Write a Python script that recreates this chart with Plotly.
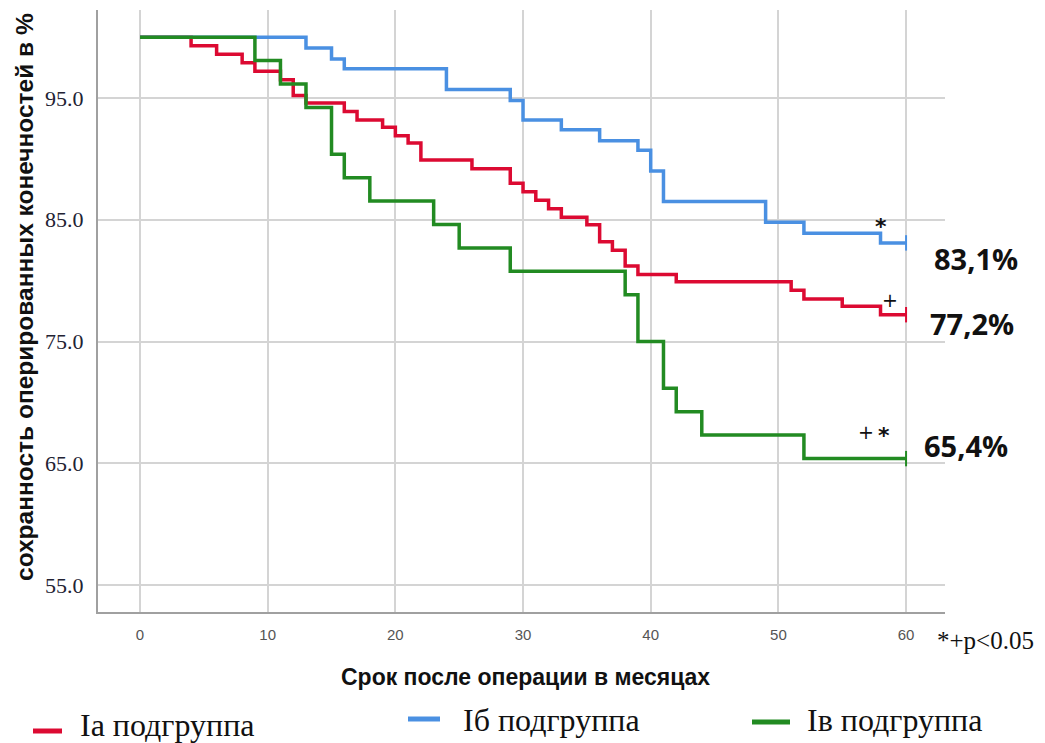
import plotly.graph_objects as go

# ---- data (months, survival %) ----
t_a = [0, 4, 6, 8, 9, 11, 12, 13, 16, 17, 19, 20, 21, 22, 26, 29, 30, 31, 32, 33, 35, 36, 37, 38, 39, 42, 51, 52, 55, 58, 60]
s_a = [100, 99.3, 98.6, 97.9, 97.2, 96.5, 95.2, 94.6, 93.9, 93.2, 92.6, 91.9, 91.3, 89.9, 89.2, 88.0, 87.3, 86.6, 85.9, 85.2, 84.6, 83.2, 82.5, 81.2, 80.5, 79.9, 79.2, 78.5, 77.9, 77.2, 77.2]

t_b = [0, 13, 15, 16, 24, 29, 30, 33, 36, 39, 40, 41, 49, 52, 58, 60]
s_b = [100, 99.1, 98.2, 97.4, 95.7, 94.8, 93.2, 92.4, 91.5, 90.7, 89.0, 86.5, 84.8, 83.9, 83.1, 83.1]

t_c = [0, 9, 11, 13, 15, 16, 18, 23, 25, 29, 38, 39, 41, 42, 44, 52, 60]
s_c = [100, 98.08, 96.15, 94.23, 90.38, 88.46, 86.54, 84.62, 82.69, 80.77, 78.85, 75.0, 71.15, 69.23, 67.31, 65.38, 65.38]

group_names = ["Ia подгруппа", "Iб подгруппа", "Iв подгруппа"]
final_labels = ["77,2%", "83,1%", "65,4%"]
x_ticks = [0, 10, 20, 30, 40, 50, 60]
y_ticks = [55, 65, 75, 85, 95]

RED, BLUE, GREEN = "#DC0A32", "#4A90E2", "#228B22"

W, H = 1045, 743
ML, MR, MT, MB = 98, 100, 10, 131
PW, PH = W - ML - MR, H - MT - MB


def px(xp):
    return (xp - ML) / PW


def py(yp):
    return (H - MB - yp) / PH


fig = go.Figure()
for t, s, c in [(t_a, s_a, RED), (t_b, s_b, BLUE), (t_c, s_c, GREEN)]:
    fig.add_trace(go.Scatter(x=t, y=s, mode="lines", line=dict(color=c, width=3.5, shape="hv"),
                             showlegend=False, hoverinfo="skip"))
    fig.add_trace(go.Scatter(x=[t[-1]], y=[s[-1]], mode="markers",
                             marker=dict(symbol="line-ns", size=11, line=dict(color=c, width=2)),
                             showlegend=False, hoverinfo="skip"))

fig.update_layout(
    width=W, height=H,
    margin=dict(l=ML, r=MR, t=MT, b=MB, autoexpand=False),
    paper_bgcolor="white", plot_bgcolor="white",
    showlegend=False,
)
fig.update_xaxes(range=[-3.29, 63.05], tickvals=x_ticks, ticks="", showgrid=True, automargin=False,
                 gridcolor="#d4d4d4", gridwidth=2, zeroline=False,
                 showline=True, linecolor="#a0a0a0", linewidth=2,
                 tickfont=dict(family="Liberation Sans", size=15, color="#555555"),
                 ticklabelstandoff=8)
fig.update_yaxes(range=[52.78, 102.23], tickvals=y_ticks, tickformat=".1f", ticks="", automargin=False,
                 showgrid=True, gridcolor="#d4d4d4", gridwidth=2, zeroline=False,
                 showline=True, linecolor="#a0a0a0", linewidth=2,
                 tickfont=dict(family="Liberation Serif", size=22, color="#222233"),
                 ticklabelstandoff=8)

ann = []


def txt(text, xp, yp, size, family, xanchor="center", angle=0):
    ann.append(dict(text=text, x=px(xp), y=py(yp), xref="paper", yref="paper", showarrow=False,
                    xanchor=xanchor, yanchor="middle", textangle=angle,
                    font=dict(family=family, size=size, color="#111")))


# axis titles
txt("<b>сохранность оперированных конечностей в %</b>", 24, 297, 24.5, "Liberation Sans", angle=-90)
txt("<b>Срок после операции в месяцах</b>", 525, 677, 23, "Liberation Sans")
# final values
for lab, (xp, yp) in zip(final_labels, [(972, 323), (976, 258), (966, 445)]):
    txt("<b>" + lab + "</b>", xp, yp, 29, "Open Sans")
# significance marks
for mark, (xp, yp) in [("<b>*</b>", (881, 227)), ("+", (890, 300)), ("+", (866, 432)), ("<b>*</b>", (884, 435))]:
    txt(mark, xp, yp, 22 if "*" in mark else 19, "DejaVu Sans")
txt("*+p<0.05", 985, 640, 25, "Liberation Serif")

# legend (drawn manually)
leg = [(RED, (33, 62, 731), (78, 725)), (BLUE, (408, 440, 719), (461, 720)), (GREEN, (752, 790, 722), (805, 720))]
shapes = []
for name, (c, (x0, x1, yl), (xt, yt)) in zip(group_names, leg):
    shapes.append(dict(type="line", xref="paper", yref="paper", x0=px(x0), x1=px(x1), y0=py(yl), y1=py(yl),
                       line=dict(color=c, width=5)))
    txt(name, xt, yt, 32, "Liberation Serif", xanchor="left")

fig.update_layout(annotations=ann, shapes=shapes)
fig.write_html("out.html", config={"displayModeBar": False},
               post_script="document.body.style.margin='0';document.body.style.padding='0';")
